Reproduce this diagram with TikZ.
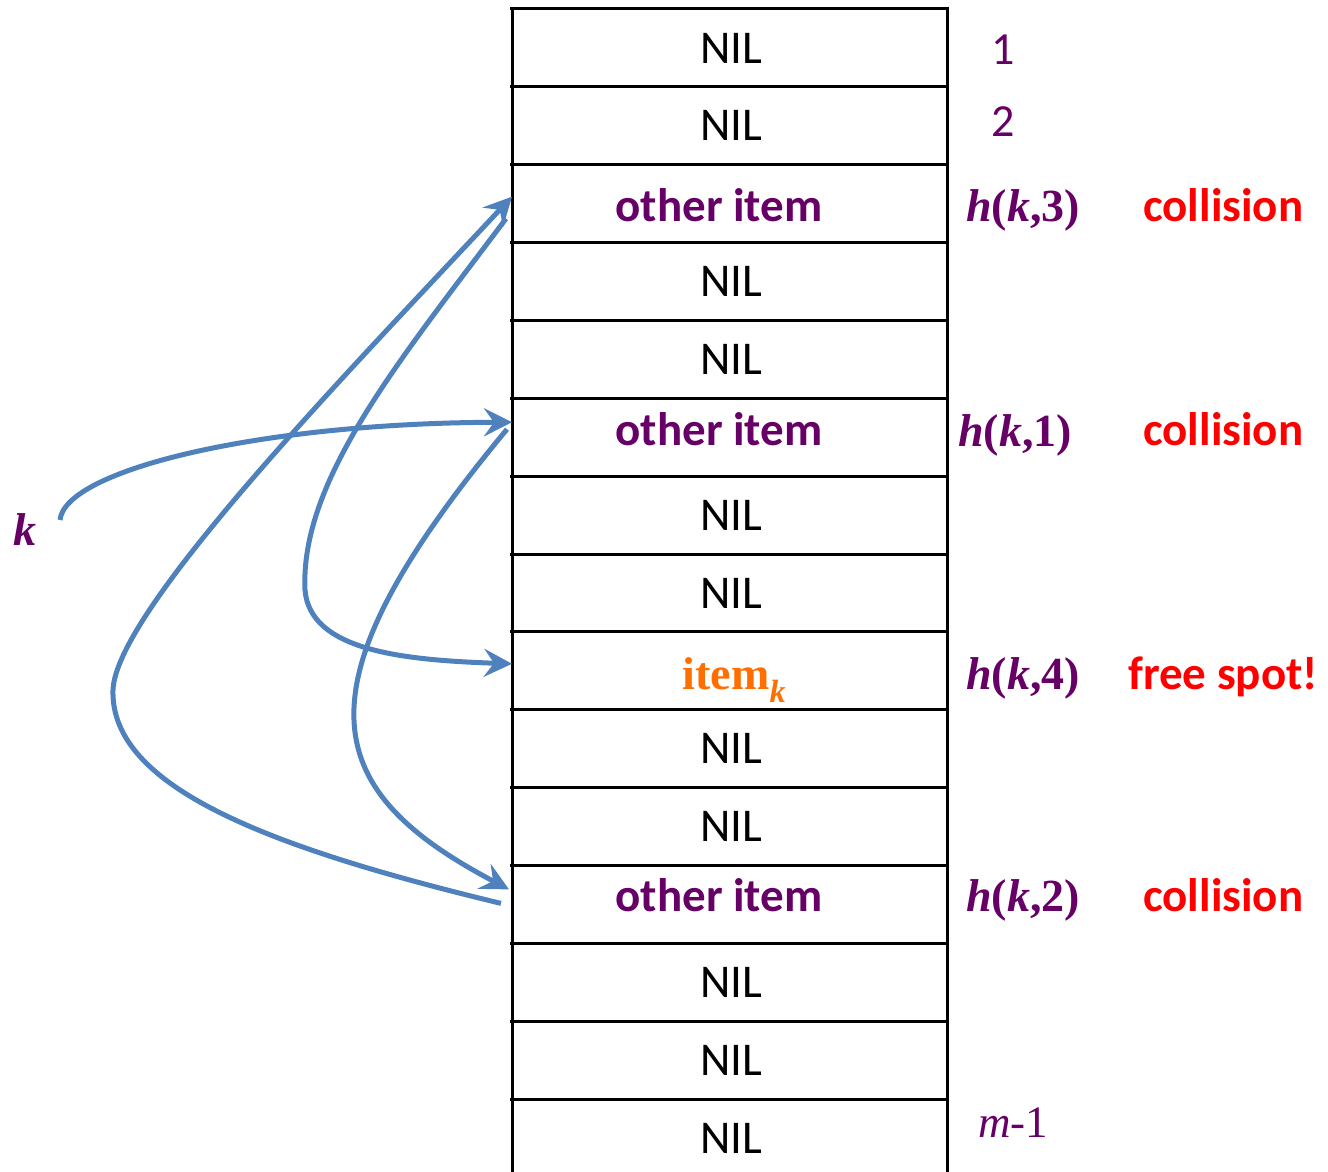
\documentclass[tikz,border=0pt]{standalone}
\usepackage{fontspec}
\setmainfont{Carlito}
\newfontfamily\serifont{Liberation Serif}
\usetikzlibrary{arrows.meta,calc}
\definecolor{purp}{RGB}{102,0,102}
\definecolor{orng}{RGB}{255,110,0}
\definecolor{arrblue}{RGB}{79,129,189}
\begin{document}
\begin{tikzpicture}[x=1pt,y=-1pt,
  cell/.style={minimum width=435pt, minimum height=77.86pt, inner sep=0pt, outer sep=0pt},
  niltext/.style={inner sep=0pt, text=black, font=\fontsize{47}{56}\selectfont},
  othertext/.style={inner sep=0pt, anchor=base, text=purp, font=\fontsize{47}{56}\selectfont\bfseries},
  itemtext/.style={inner sep=0pt, anchor=base, text=orng, font=\serifont\fontsize{46}{55}\selectfont\bfseries},
  idx/.style={inner sep=0pt, anchor=base, text=purp, font=\fontsize{46}{55}\selectfont},
  hlabel/.style={inner sep=0pt, anchor=base west, text=purp, font=\serifont\fontsize{46}{55}\selectfont\bfseries},
  mlabel/.style={inner sep=0pt, anchor=base west, text=purp, font=\serifont\fontsize{45}{54}\selectfont},
  note/.style={inner sep=0pt, anchor=base west, text=red, font=\fontsize{47}{56}\selectfont\bfseries},
  gridline/.style={line width=3pt, black},
  probe/.style={arrblue, line width=5pt, -{Stealth[length=28pt,width=28pt,inset=10pt]}}
]
\useasboundingbox (0,0) rectangle (1328,1172);

% cells
\foreach \i in {1,...,15} {
  \pgfmathsetmacro\yc{9+77.86*(\i-0.5)}
  \node[cell] (c\i) at (729.5,\yc) {};
}
% grid
\foreach \i in {1,...,15} {
  \draw[gridline] ([xshift=-2pt]c\i.north west) -- ([xshift=2pt]c\i.north east);
}
\draw[gridline] (c1.north west) -- (c15.south west);
\draw[gridline] (c1.north east) -- (c15.south east);

% cell texts
\foreach \i in {1,2,4,5,7,8,10,11,13,14,15} {
  \node[niltext] (t\i) at ([xshift=1.5pt]c\i) {NIL};
}
\node[othertext] (t3) at (719,221) {other item};
\node[othertext] (t6) at (719,445) {other item};
\node[othertext] (t12) at (719,911) {other item};
\node[itemtext] (t9) at (734.5,689) {item\textsubscript{\textit{k}}};

% indices
\node[idx] (i1) at (1003,65) {1};
\node[idx] (i2) at (1003,136) {2};
\node[hlabel] (h3) at (966,221) {\textit{h}(\textit{k},3)};
\node[hlabel] (h1) at (958,446) {\textit{h}(\textit{k},1)};
\node[hlabel] (h4) at (966,689) {\textit{h}(\textit{k},4)};
\node[hlabel] (h2) at (966,911) {\textit{h}(\textit{k},2)};
\node[mlabel] (mm) at (978,1137) {\textit{m}-1};

\node[note] (n3) at (1143,221) {collision};
\node[note] (n1) at (1143,445) {collision};
\node[note] (n4) at (1128,689) {free spot!};
\node[note] (n2) at (1143,911) {collision};

% key
\node[inner sep=0pt, anchor=base west, text=purp, font=\serifont\fontsize{46}{55}\selectfont\bfseries\itshape] (key) at (13,545) {k};
\coordinate (kstart) at (60,520);

% probe arrows
\coordinate (a1end) at ([yshift=15pt]c6.west);
\coordinate (a2start) at ([xshift=-5pt,yshift=8pt]c6.west);
\coordinate (a2end) at ([xshift=-3pt,yshift=15pt]c12.west);
\coordinate (a3start) at ([xshift=-11pt,yshift=1pt]c12.west);
\coordinate (a3end) at ([yshift=7pt]c3.west);
\coordinate (a4start) at ([xshift=-6pt,yshift=-15pt]c3.west);
\coordinate (a4end) at ([yshift=7pt]c9.west);

\draw[probe] (kstart) .. controls (65,470) and (260,423) .. (a1end);
\draw[probe] (a2start) .. controls (290,690) and (320,790) .. (a2end);
\draw[probe] (a3start) .. controls (280,850) and (110,790) .. (113,690)
                       .. controls (116,610) and (350,370) .. (a3end);
\draw[probe] (a4start) .. controls (400,360) and (300,480) .. (305,590)
                       .. controls (310,650) and (400,660) .. (a4end);
\end{tikzpicture}
\end{document}
